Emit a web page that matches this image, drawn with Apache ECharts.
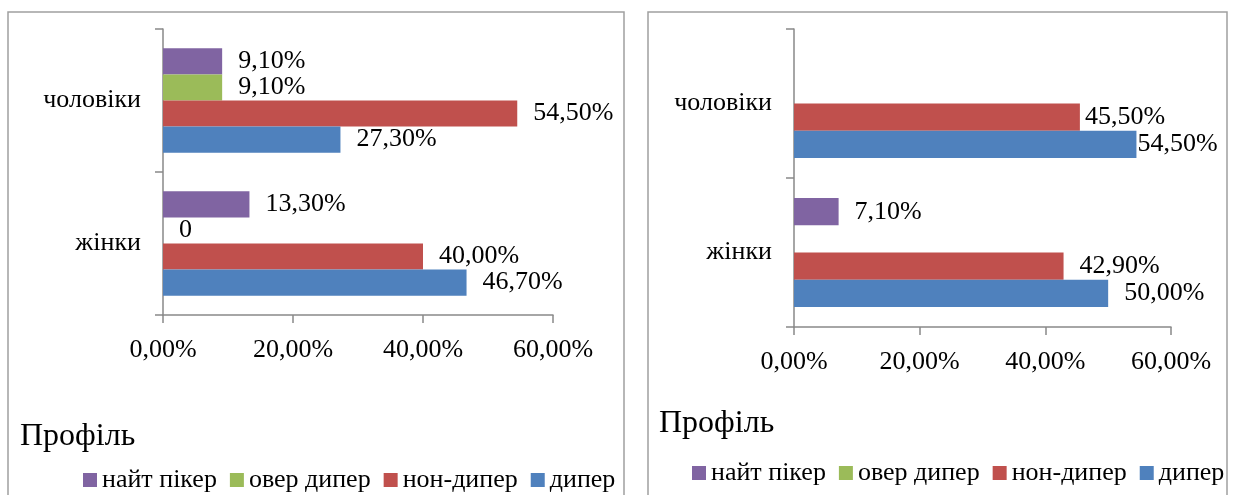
<!DOCTYPE html>
<html>
<head>
<meta charset="utf-8">
<script src="https://cdn.jsdelivr.net/npm/echarts@6/dist/echarts.min.js"></script>
<style>
  html, body { margin: 0; padding: 0; background: #fff; }
  #chart { width: 1240px; height: 495px; }
</style>
</head>
<body>
<div id="chart"></div>
<script>
// Categories (bottom to top on the vertical axis)
const categories = ['жінки', 'чоловіки'];
const seriesNames = ['найт пікер', 'овер дипер', 'нон-дипер', 'дипер'];

// Left panel, percent values per category [жінки, чоловіки]
const leftNightPeaker = [13.3, 9.1];
const leftOverDipper = [0, 9.1];
const leftNonDipper = [40.0, 54.5];
const leftDipper = [46.7, 27.3];

// Right panel, percent values per category [жінки, чоловіки]
const rightNightPeaker = [7.1, null];
const rightOverDipper = [null, null];
const rightNonDipper = [42.9, 45.5];
const rightDipper = [50.0, 54.5];

const colors = ['#8064A2', '#9BBB59', '#C0504D', '#4F81BD'];
const FONT = 'Liberation Serif, Times New Roman, serif';
const AXIS_GRAY = '#898989';

function fmt(v) {
  if (v === 0) return '0';
  return v.toFixed(2).replace('.', ',') + '%';
}

// first series sits at the top of each category group
function makeSeries(gridIdx, arrays, labelDist) {
  return seriesNames.map((name, i) => ({
    name: name,
    type: 'bar',
    xAxisIndex: gridIdx,
    yAxisIndex: gridIdx,
    barGap: '0%',
    barCategoryGap: '27%',
    itemStyle: { color: colors[i] },
    label: {
      show: true,
      position: 'right',
      distance: 16,
      color: '#000',
      fontFamily: FONT,
      fontSize: 26,
      formatter: p => fmt(p.value)
    },
    data: arrays[i].map((v, k) => {
      const d = labelDist && labelDist[i] && labelDist[i][k];
      return d != null ? { value: v, label: { distance: d } } : v;
    })
  }));
}

function xAxis(gridIdx) {
  return {
    type: 'value', gridIndex: gridIdx, min: 0, max: 60, interval: 20,
    splitLine: { show: false },
    axisLine: { show: true, lineStyle: { color: AXIS_GRAY, width: 1.5 } },
    axisTick: { show: true, length: 8, lineStyle: { color: AXIS_GRAY, width: 1.5 } },
    axisLabel: {
      color: '#000', fontFamily: FONT, fontSize: 26, margin: 22,
      formatter: v => v.toFixed(2).replace('.', ',') + '%'
    }
  };
}

function yAxis(gridIdx) {
  return {
    type: 'category', gridIndex: gridIdx, data: categories,
    axisLine: { show: true, lineStyle: { color: AXIS_GRAY, width: 1.5 } },
    axisTick: { show: true, length: 8, lineStyle: { color: AXIS_GRAY, width: 1.5 } },
    axisLabel: { color: '#000', fontFamily: FONT, fontSize: 26, margin: 22 }
  };
}

function legend(left, top) {
  return {
    data: seriesNames, left: left, top: top, icon: 'rect', padding: 0,
    itemWidth: 14, itemHeight: 14, itemGap: 13,
    textStyle: { color: '#000', fontFamily: FONT, fontSize: 26 },
    selectedMode: false
  };
}

const titleStyle = { fontFamily: FONT, fontSize: 32, fontWeight: 'normal', color: '#000' };

const chart = echarts.init(document.getElementById('chart'), null, { renderer: 'canvas' });
chart.setOption({
  backgroundColor: '#fff',
  animation: false,
  title: [
    { text: 'Профіль', left: 15, top: 416, textStyle: titleStyle },
    { text: 'Профіль', left: 654, top: 403, textStyle: titleStyle }
  ],
  legend: [legend(83, 467), legend(692, 460)],
  grid: [
    { left: 163, top: 29, width: 390, height: 286 },
    { left: 794, top: 29, width: 377, height: 298 }
  ],
  xAxis: [xAxis(0), xAxis(1)],
  yAxis: [yAxis(0), yAxis(1)],
  graphic: [
    { type: 'rect', shape: { x: 8, y: 12, width: 616, height: 500 }, style: { fill: 'none', stroke: '#a0a0a0', lineWidth: 1.5 }, silent: true },
    { type: 'rect', shape: { x: 648, y: 12, width: 579, height: 500 }, style: { fill: 'none', stroke: '#a0a0a0', lineWidth: 1.5 }, silent: true }
  ],
  series: [
    ...makeSeries(0, [leftNightPeaker, leftOverDipper, leftNonDipper, leftDipper]),
    ...makeSeries(1, [rightNightPeaker, rightOverDipper, rightNonDipper, rightDipper],
      { 2: [null, 5], 3: [null, 1] })
  ]
});
</script>
</body>
</html>
